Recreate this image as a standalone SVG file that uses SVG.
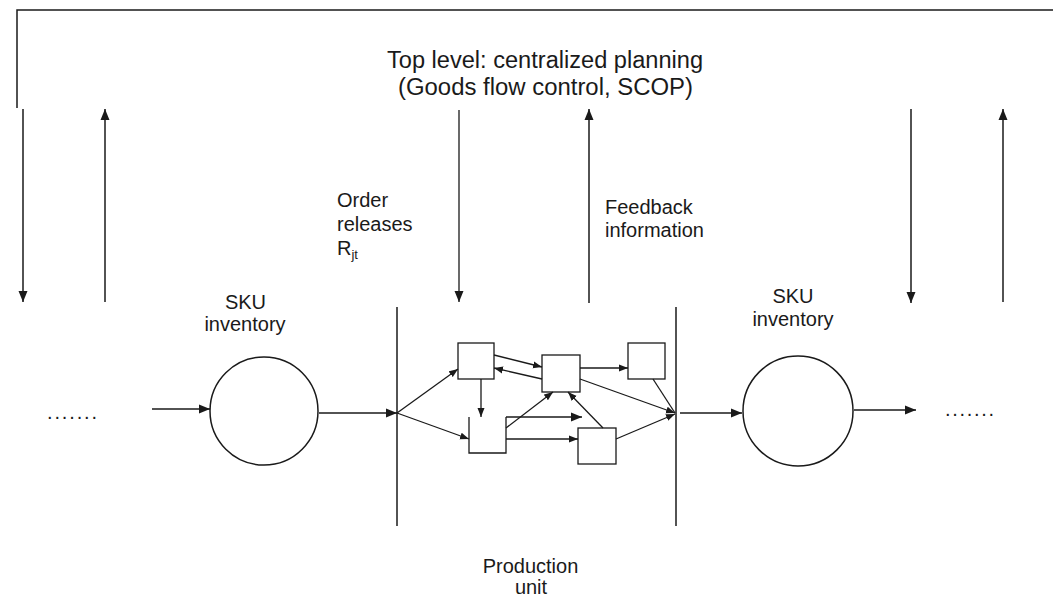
<svg xmlns="http://www.w3.org/2000/svg" width="1053" height="596" viewBox="0 0 1053 596">
<style>
text{font-family:"Liberation Sans",Arial,sans-serif;fill:#1a1a1a}
.t{font-size:23.5px}
.l{font-size:20px}
.ln{stroke:#1a1a1a;stroke-width:1.5;fill:none}
.sm{stroke:#1a1a1a;stroke-width:1.3;fill:none}
.box{stroke:#1a1a1a;stroke-width:1.3;fill:#fff}
</style>
<defs>
<marker id="ab" markerUnits="userSpaceOnUse" markerWidth="12" markerHeight="10" refX="11" refY="5" orient="auto"><path d="M0,0.5 L11,5 L0,9.5 z" fill="#1a1a1a"/></marker>
<marker id="as" markerUnits="userSpaceOnUse" markerWidth="10" markerHeight="8" refX="9" refY="4" orient="auto"><path d="M0,0.5 L9,4 L0,7.5 z" fill="#1a1a1a"/></marker>
</defs>
<rect width="1053" height="596" fill="#fff"/>
<g id="top-level">
<path class="ln" d="M17,108 V10 H1053"/>
<text class="t" x="545" y="67.5" text-anchor="middle" textLength="316" lengthAdjust="spacingAndGlyphs">Top level: centralized planning</text>
<text class="t" x="545.5" y="95" text-anchor="middle" textLength="295" lengthAdjust="spacingAndGlyphs">(Goods flow control, SCOP)</text>
</g>
<g id="labels">
<text class="l" x="337" y="207">Order</text>
<text class="l" x="337" y="231">releases</text>
<text class="l" x="337" y="255">R<tspan font-size="13" dy="4">jt</tspan></text>
<text class="l" x="605" y="214">Feedback</text>
<text class="l" x="605" y="237">information</text>
</g>
<g id="sku-left">
<text class="l" x="245.5" y="309" text-anchor="middle">SKU</text>
<text class="l" x="245" y="331" text-anchor="middle">inventory</text>
<circle class="ln" cx="264" cy="411" r="54"/>
</g>
<g id="sku-right">
<text class="l" x="793" y="303" text-anchor="middle">SKU</text>
<text class="l" x="793" y="326" text-anchor="middle">inventory</text>
<circle class="ln" cx="798" cy="411" r="55"/>
</g>
<g id="dots-left"><text class="l" x="47" y="419" textLength="50" lengthAdjust="spacing">.......</text></g>
<g id="dots-right"><text class="l" x="945" y="416" textLength="49" lengthAdjust="spacing">.......</text></g>
<g id="production-unit">
<line class="ln" x1="397" y1="307" x2="397" y2="526"/>
<line class="ln" x1="676" y1="307" x2="676" y2="526"/>
<text class="l" x="530.5" y="573" text-anchor="middle">Production</text>
<text class="l" x="531" y="594" text-anchor="middle">unit</text>
</g>
<g id="box-a"><rect class="box" x="458" y="343" width="36" height="36"/></g>
<g id="box-b"><rect class="box" x="542" y="355" width="38" height="37"/></g>
<g id="box-c"><rect class="box" x="628" y="343" width="37" height="36"/></g>
<g id="box-d"><path class="sm" d="M469,417 V453 H506 V417"/></g>
<g id="box-e"><rect class="box" x="578" y="428" width="38" height="36"/></g>
<g id="connectors">
<line class="ln" x1="23" y1="109" x2="23" y2="302" marker-end="url(#ab)"/>
<line class="ln" x1="105" y1="302" x2="105" y2="109" marker-end="url(#ab)"/>
<line class="sm" x1="459" y1="110" x2="459" y2="302" marker-end="url(#ab)"/>
<line class="ln" x1="589" y1="303" x2="589" y2="109" marker-end="url(#ab)"/>
<line class="ln" x1="911" y1="109" x2="911" y2="303" marker-end="url(#ab)"/>
<line class="ln" x1="1003" y1="302" x2="1003" y2="109" marker-end="url(#ab)"/>
<line class="ln" x1="152" y1="409" x2="210" y2="409" marker-end="url(#ab)"/>
<line class="ln" x1="319" y1="413" x2="397" y2="413" marker-end="url(#ab)"/>
<line class="ln" x1="680" y1="413" x2="742" y2="413" marker-end="url(#ab)"/>
<line class="ln" x1="854" y1="410" x2="916" y2="410" marker-end="url(#ab)"/>
<line class="sm" x1="397" y1="413" x2="458" y2="369" marker-end="url(#as)"/>
<line class="sm" x1="397" y1="413" x2="469" y2="439" marker-end="url(#as)"/>
<line class="sm" x1="494" y1="355" x2="542" y2="367" marker-end="url(#as)"/>
<line class="sm" x1="542" y1="379" x2="494" y2="368" marker-end="url(#as)"/>
<line class="sm" x1="481" y1="379" x2="481" y2="417" marker-end="url(#as)"/>
<line class="sm" x1="580" y1="368" x2="628" y2="368" marker-end="url(#as)"/>
<line class="sm" x1="580" y1="379" x2="675" y2="413" marker-end="url(#as)"/>
<line class="sm" x1="653" y1="379" x2="675" y2="413"/>
<line class="sm" x1="506" y1="428" x2="553" y2="392" marker-end="url(#as)"/>
<line class="sm" x1="506" y1="417" x2="582" y2="417" marker-end="url(#ab)"/>
<line class="sm" x1="506" y1="439" x2="578" y2="439" marker-end="url(#as)"/>
<line class="sm" x1="603" y1="428" x2="568" y2="392" marker-end="url(#as)"/>
<line class="sm" x1="616" y1="439" x2="675" y2="414" marker-end="url(#as)"/>
</g>
</svg>
